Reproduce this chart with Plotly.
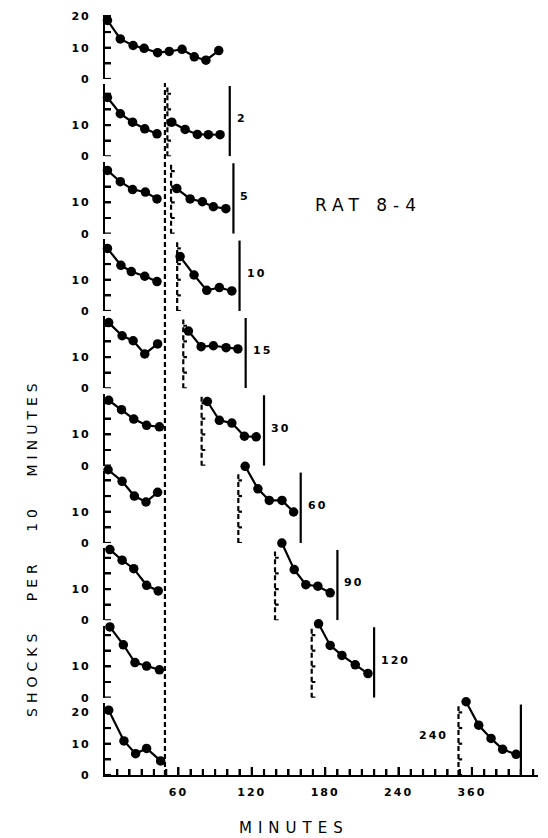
import plotly.graph_objects as go

# ---------------- data ----------------
delays = [2, 5, 10, 15, 30, 60, 90, 120, 240]          # delay (min) for rows 2..10
delay_labels = ["2", "5", "10", "15", "30", "60", "90", "120", "240"]
first_end = 49.0        # end of the first session (min)
session_len = 51.0      # length of resumed session (min)

# row 1: continuous session
row1_x = [2, 12.5, 23, 32, 43, 52.5, 63, 73, 82.5, 93]
row1_y = [18.7, 12.8, 10.7, 9.8, 8.4, 8.8, 9.5, 7.1, 6.0, 9.1]

# first session of rows 2..10
first_x = [
    [2, 12.5, 22.5, 32.5, 42.5],
    [2, 12.5, 22.5, 33, 42.5],
    [2, 13, 21.5, 32.5, 42.5],
    [3, 14, 23, 32.5, 43],
    [3, 13.5, 23.5, 34, 44.5],
    [2.5, 14, 24, 33.5, 43],
    [4, 14, 23.5, 34, 43.5],
    [4, 15, 24.5, 34, 44.5],
    [3, 15.5, 25, 34, 45.5],
]
first_y = [
    [18.8, 13.6, 10.9, 8.8, 7.2],
    [20.2, 16.6, 14.1, 13.3, 11.1],
    [20.0, 14.6, 12.6, 11.1, 9.4],
    [21.0, 16.8, 15.2, 11.0, 14.2],
    [20.9, 17.9, 14.9, 12.9, 12.4],
    [23.4, 19.7, 15.0, 13.1, 16.2],
    [22.6, 19.2, 16.5, 11.2, 9.4],
    [22.6, 16.9, 11.2, 10.1, 8.9],
    [20.7, 10.9, 6.8, 8.5, 4.5],
]
# resumed session of rows 2..10
second_x = [
    [54.6, 65.5, 75.5, 84.5, 94.1],
    [58.7, 69.6, 79.6, 88.6, 98.8],
    [61.4, 72.8, 83.2, 93.5, 103.7],
    [68.2, 78.6, 88.6, 99.0, 108.6],
    [83.7, 93.5, 103.7, 114.0, 123.6],
    [114.6, 125.0, 134.3, 144.7, 154.2],
    [144.6, 154.7, 164.2, 174.0, 184.1],
    [174.6, 184.1, 193.7, 204.6, 215.0],
    [295.2, 305.5, 315.6, 325.1, 336.1],
]
second_y = [
    [10.9, 8.6, 7.0, 6.9, 6.9],
    [14.4, 11.1, 10.2, 8.6, 8.0],
    [17.4, 11.5, 6.6, 7.5, 6.4],
    [18.3, 13.3, 13.6, 13.0, 12.6],
    [20.5, 14.5, 13.6, 9.4, 9.2],
    [24.5, 17.3, 13.6, 13.6, 9.9],
    [24.7, 16.2, 11.4, 10.9, 8.8],
    [23.6, 16.7, 13.5, 10.5, 7.7],
    [23.4, 15.9, 11.7, 8.2, 6.6],
]
x_tickvals = [60, 120, 180, 240, 300]
x_ticktext = ["60", "120", "180", "240", "360"]
y_tickvals = [0, 5, 10, 15, 20]

# ---------------- layout geometry ----------------
W, H = 548, 838
ML, MR, MT, MB = 105, 10, 15, 63
plot_h = H - MT - MB
plot_w = W - ML - MR
axis_bottom_px = H - MB
X_MAX = 354
ppu = 3.13                      # pixels per shock unit
ppm = plot_w / X_MAX            # pixels per minute
n_rows = 10
first_bottom = 79
spacing = (axis_bottom_px - first_bottom) / (n_rows - 1)
extra_px = 10                   # room above each panel for points drawn past its top

FONT = "DejaVu Sans"
fig = go.Figure()

def ls(txt, sp):
    return f'<span style="letter-spacing:{sp}px">{txt}</span>'

layout = dict(
    width=W, height=H,
    margin=dict(l=ML, r=MR, t=MT, b=MB, pad=0, autoexpand=False),
    paper_bgcolor="white", plot_bgcolor="rgba(0,0,0,0)",
    showlegend=False,
    font=dict(family=FONT, color="black"),
    xaxis=dict(
        range=[0, X_MAX], anchor="y10", showgrid=False, zeroline=False,
        automargin=False, tickangle=0,
        showline=True, linecolor="black", linewidth=2.2,
        tickmode="array", tickvals=x_tickvals,
        ticktext=[ls(t, 2) for t in x_ticktext],
        ticks="inside", ticklen=8, tickwidth=2.2, tickcolor="black",
        ticklabelstandoff=6,
        tickfont=dict(size=11, family=FONT, weight="bold", color="black"),
        minor=dict(tickmode="linear", tick0=0, dtick=10, ticks="inside",
                   ticklen=6, tickwidth=2.2, tickcolor="black"),
    ),
)

line_style = dict(color="black", width=2.2)
marker_style = dict(color="black", size=9.5)
dash_style = dict(color="black", width=2.2, dash="5px,3px")
tick_style = dict(color="black", width=2.2)

shapes = []
annotations = []
for r in range(n_rows):
    vis = "y" if r == 0 else f"y{r+1}"
    vis_key = "yaxis" if r == 0 else f"yaxis{r+1}"
    bottom = first_bottom + spacing * r
    top = MT if r == 0 else bottom - 72
    d0 = (axis_bottom_px - bottom) / plot_h
    d1 = (axis_bottom_px - top) / plot_h
    rmax = (bottom - top) / ppu
    if r == 0 or r == n_rows - 1:
        ttext = ["0", "", "10", "", "20"]
    else:
        ttext = ["0", "", "10", "", ""]
    layout[vis_key] = dict(
        domain=[d0, d1], range=[0, rmax], anchor="x", automargin=False,
        showgrid=False, zeroline=False,
        showline=True, linecolor="black", linewidth=2.2,
        tickmode="array", tickvals=y_tickvals,
        ticktext=[ls(t, 2) for t in ttext],
        ticks="inside", ticklen=6, tickwidth=2.2, tickcolor="black",
        ticklabelstandoff=10,
        tickfont=dict(size=11, family=FONT, weight="bold", color="black"),
    )
    # tick marks on the panel's own axis, drawn explicitly
    for tv in y_tickvals:
        if tv <= rmax:
            shapes.append(dict(type="line", xref="x", yref=vis, x0=0, x1=6 / ppm,
                               y0=tv, y1=tv, line=tick_style))
    if r == 0:
        fig.add_trace(go.Scatter(x=row1_x, y=row1_y, mode="lines+markers",
                                 line=line_style, marker=marker_style,
                                 xaxis="x", yaxis=vis, cliponaxis=False))
        continue
    # invisible twin axis with identical scale but a taller clip region
    draw = f"y{r+11}"
    d1x = (axis_bottom_px - top + extra_px) / plot_h
    rmax_x = (bottom - top + extra_px) / ppu
    layout[f"yaxis{r+11}"] = dict(domain=[d0, d1x], range=[0, rmax_x], anchor="x",
                                  visible=False, automargin=False, fixedrange=True)
    i = r - 1
    fig.add_trace(go.Scatter(x=first_x[i], y=first_y[i], mode="lines+markers",
                             line=line_style, marker=marker_style,
                             xaxis="x", yaxis=draw, cliponaxis=False))
    fig.add_trace(go.Scatter(x=second_x[i], y=second_y[i], mode="lines+markers",
                             line=line_style, marker=marker_style,
                             xaxis="x", yaxis=draw, cliponaxis=False))
    resume = first_end + delays[i]
    end = resume + session_len
    # solid end-of-session line
    shapes.append(dict(type="line", xref="x", yref=vis, x0=end, x1=end,
                       y0=0, y1=22.5, line=dict(color="black", width=2.2)))
    # dashed axis for resumed session with small ticks
    shapes.append(dict(type="line", xref="x", yref=vis, x0=resume, x1=resume,
                       y0=0, y1=22, line=dash_style))
    for tv in y_tickvals:
        shapes.append(dict(type="line", xref="x", yref=vis, x0=resume, x1=resume + 3,
                           y0=tv, y1=tv, line=tick_style))
    if r == n_rows - 1:
        annotations.append(dict(x=resume, y=12.5, xref="x", yref=vis,
                                text=ls(delay_labels[i], 2), showarrow=False,
                                xanchor="right", yanchor="middle", xshift=-8,
                                font=dict(size=11, family=FONT, weight="bold", color="black")))
    else:
        annotations.append(dict(x=end, y=12, xref="x", yref=vis,
                                text=ls(delay_labels[i], 2), showarrow=False,
                                xanchor="left", yanchor="middle", xshift=5,
                                font=dict(size=11, family=FONT, weight="bold", color="black")))

# x-axis tick marks (every 10 min, taller at labelled ticks), drawn explicitly
for t in range(10, X_MAX + 1, 10):
    ln = 8 if t in x_tickvals else 6
    shapes.append(dict(type="line", xref="x", yref="y10", x0=t, x1=t,
                       y0=0, y1=ln / ppu, line=tick_style, layer="above"))

# long dashed line marking the end of the first session (rows 2..10)
shapes.append(dict(type="line", xref="x", yref="paper", x0=first_end, x1=first_end,
                   y0=0, y1=(axis_bottom_px - 83) / plot_h, line=dash_style))

def px_to_paper_x(px):
    return (px - ML) / plot_w

def px_to_paper_y(py):
    return (axis_bottom_px - py) / plot_h

annotations.append(dict(x=px_to_paper_x(368), y=px_to_paper_y(205), xref="paper", yref="paper",
                        text=ls("RAT 8-4", 6), showarrow=False, xanchor="center", yanchor="middle",
                        font=dict(size=17, family=FONT, color="black")))
annotations.append(dict(x=px_to_paper_x(294), y=px_to_paper_y(828), xref="paper", yref="paper",
                        text=ls("MINUTES", 6), showarrow=False, xanchor="center", yanchor="middle",
                        font=dict(size=15, family=FONT, color="black")))
annotations.append(dict(x=px_to_paper_x(32), y=px_to_paper_y(548), xref="paper", yref="paper",
                        text='<span style="letter-spacing:5px;word-spacing:18px">SHOCKS PER 10 MINUTES</span>',
                        showarrow=False, xanchor="center", yanchor="middle", textangle=-90,
                        font=dict(size=14, family=FONT, color="black")))

layout["shapes"] = shapes
layout["annotations"] = annotations
fig.update_layout(**layout)
fig.write_html("out.html")
